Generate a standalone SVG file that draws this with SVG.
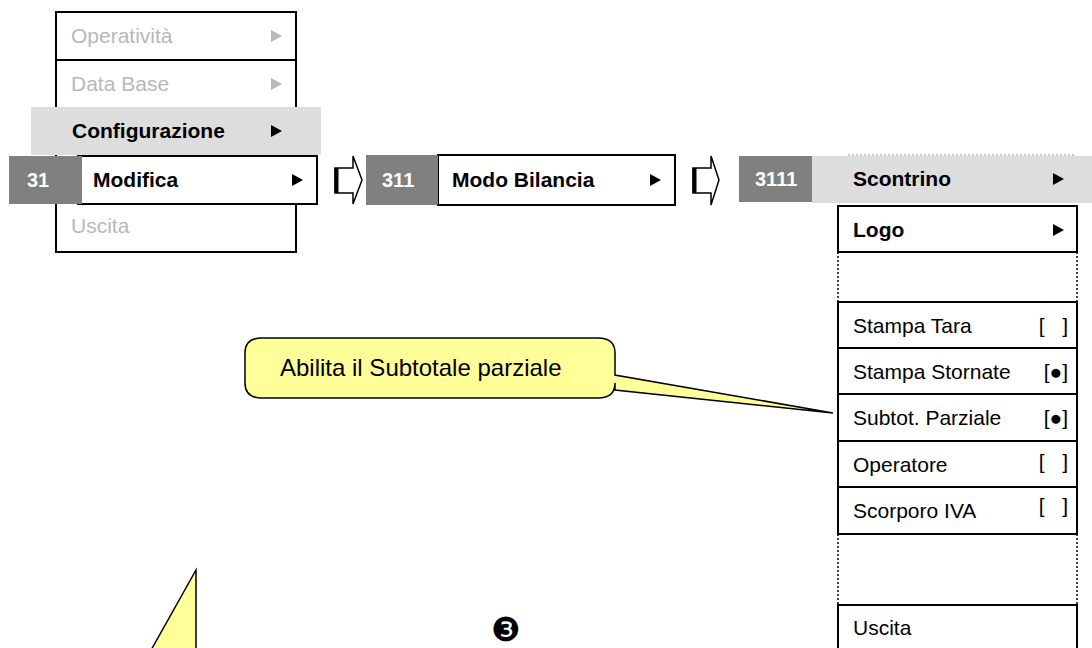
<svg xmlns="http://www.w3.org/2000/svg" xmlns:xlink="http://www.w3.org/1999/xlink" width="1092" height="648" viewBox="0 0 1092 648">
<style>
text{font-family:"Liberation Sans",Arial,sans-serif;font-size:21px}
.b{font-weight:bold}
.dim{fill:#B8B8B8}
.num{fill:#FFFFFF;font-weight:bold;font-size:20px}
.box{fill:#FFFFFF;stroke:#000;stroke-width:2}
.band{fill:#DDDDDD}
.ngray{fill:#808080}
.dot{stroke:#000;stroke-width:1.5;stroke-dasharray:2 2;fill:none}
.conn{fill:#FFFFFF;stroke:#000;stroke-width:1.5}
.callout{fill:#FFFF99;stroke:#000;stroke-width:1.5}
</style>
<defs>
<polygon id="tri" points="0,0 11,6 0,12"/>
</defs>

<g id="menu-main">
<rect class="box" x="56" y="12" width="240" height="240"/>
<line x1="56" y1="60" x2="296" y2="60" stroke="#000" stroke-width="2"/>
<text class="dim" x="71" y="43">Operatività</text>
<use xlink:href="#tri" x="271" y="30" fill="#B8B8B8"/>
<text class="dim" x="71" y="91">Data Base</text>
<use xlink:href="#tri" x="271" y="78" fill="#B8B8B8"/>
<rect class="band" x="31" y="107" width="290" height="48"/>
<text class="b" x="72" y="138">Configurazione</text>
<use xlink:href="#tri" x="271" y="125" fill="#000"/>
<text class="dim" x="71" y="233">Uscita</text>
</g>

<g id="item-31">
<rect class="box" x="78" y="156" width="239" height="48"/>
<rect class="ngray" x="9" y="156" width="73" height="48"/>
<text class="num" x="27" y="187">31</text>
<text class="b" x="93" y="187">Modifica</text>
<use xlink:href="#tri" x="292" y="174" fill="#000"/>
</g>

<g id="item-311">
<rect class="box" x="438" y="155" width="237" height="50"/>
<rect class="ngray" x="366" y="155" width="72" height="50"/>
<text class="num" x="382" y="187">311</text>
<text class="b" x="452" y="187">Modo Bilancia</text>
<use xlink:href="#tri" x="650" y="174" fill="#000"/>
</g>

<g id="menu-3111">
<line x1="848" y1="155" x2="1075" y2="155" style="stroke:#999;stroke-width:1;stroke-dasharray:2 2"/>
<rect class="band" x="812" y="156" width="280" height="47"/>
<rect class="ngray" x="739" y="156" width="73" height="46"/>
<text class="num" x="755" y="186">3111</text>
<text class="b" x="853" y="186">Scontrino</text>
<use xlink:href="#tri" x="1053" y="173" fill="#000"/>
</g>

<g id="item-logo">
<rect class="box" x="838" y="206" width="239" height="46"/>
<text class="b" x="853" y="237">Logo</text>
<use xlink:href="#tri" x="1053" y="224" fill="#000"/>
</g>

<g id="gap-1">
<line class="dot" x1="838" y1="252" x2="838" y2="302"/>
<line class="dot" x1="1077" y1="252" x2="1077" y2="302"/>
</g>

<g id="options">
<rect class="box" x="838" y="302" width="239" height="232"/>
<line x1="838" y1="348" x2="1077" y2="348" stroke="#000" stroke-width="2"/>
<line x1="838" y1="394" x2="1077" y2="394" stroke="#000" stroke-width="2"/>
<line x1="838" y1="441" x2="1077" y2="441" stroke="#000" stroke-width="2"/>
<line x1="838" y1="487" x2="1077" y2="487" stroke="#000" stroke-width="2"/>
<text x="853" y="333">Stampa Tara</text>
<text x="1068" y="333" text-anchor="end" xml:space="preserve" style="white-space:pre">[   ]</text>
<text x="853" y="379">Stampa Stornate</text>
<text x="1068" y="379" text-anchor="end">[●]</text>
<text x="853" y="425">Subtot. Parziale</text>
<text x="1068" y="425" text-anchor="end">[●]</text>
<text x="853" y="472">Operatore</text>
<text x="1068" y="469" text-anchor="end" xml:space="preserve" style="white-space:pre">[   ]</text>
<text x="853" y="518">Scorporo IVA</text>
<text x="1068" y="513" text-anchor="end" xml:space="preserve" style="white-space:pre">[   ]</text>
</g>

<g id="gap-2">
<line class="dot" x1="838" y1="534" x2="838" y2="605"/>
<line class="dot" x1="1077" y1="534" x2="1077" y2="605"/>
</g>

<g id="item-uscita">
<rect class="box" x="838" y="605" width="239" height="60"/>
<text x="853" y="635">Uscita</text>
</g>

<g id="connectors">
<polygon class="conn" points="335,168 353,168 353,156 362,180 353,204 353,193 335,193"/>
<line x1="336.5" y1="168" x2="336.5" y2="193" stroke="#000" stroke-width="4"/>
<polygon class="conn" points="693,168 711,168 711,156 719,180 711,205 711,193 693,193"/>
<line x1="694.5" y1="168" x2="694.5" y2="193" stroke="#000" stroke-width="4"/>
</g>

<g id="callout">
<path class="callout" d="M262,338 H598 Q615,338 615,353 V375 L833,413 L615,390 V383 Q615,398 598,398 H262 Q245,398 245,383 V353 Q245,338 262,338 Z"/>
<text x="280" y="376" style="font-size:24px">Abilita il Subtotale parziale</text>
</g>

<g id="callout-2">
<polygon class="callout" points="196,570 150,652 196,652"/>
</g>

<g id="step">
<text x="491" y="641" style="font-family:'DejaVu Sans',sans-serif;font-size:33px">❸</text>
</g>
</svg>
